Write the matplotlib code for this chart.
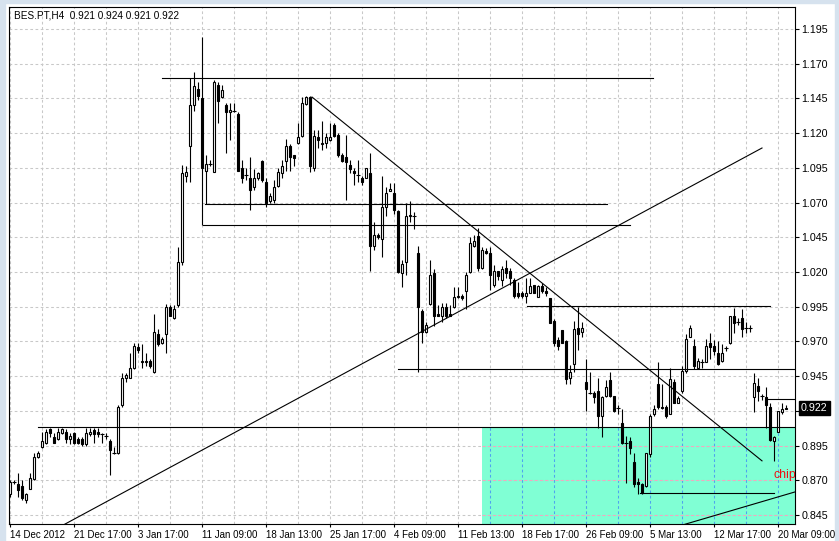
import matplotlib
matplotlib.use("Agg")
import matplotlib.pyplot as plt
from matplotlib.patches import Rectangle
from matplotlib.transforms import blended_transform_factory

plt.rcParams['font.family'] = ['Liberation Sans', 'DejaVu Sans']

# ---------------- data ----------------
title_text = "BES.PT,H4  0.921 0.924 0.921 0.922"

opens = [
    0.860, 0.869, 0.867, 0.866, 0.856, 0.864, 0.871, 0.887, 0.894, 0.897,
    0.907, 0.901, 0.900, 0.904, 0.905, 0.900, 0.904, 0.900, 0.900, 0.896,
    0.903, 0.906, 0.905, 0.903, 0.902, 0.898, 0.890, 0.890, 0.924, 0.944,
    0.944, 0.951, 0.966, 0.955, 0.956, 0.956, 0.948, 0.975, 0.969, 0.975,
    0.995, 0.987, 0.996, 1.027, 1.089, 1.111, 1.140, 1.152, 1.145, 1.093,
    1.098, 1.092, 1.155, 1.146, 1.140, 1.135, 1.136, 1.134, 1.095, 1.090,
    1.088, 1.081, 1.088, 1.100, 1.085, 1.071, 1.072, 1.082, 1.091, 1.100,
    1.111, 1.104, 1.113, 1.118, 1.141, 1.146, 1.095, 1.117, 1.112, 1.113,
    1.115, 1.126, 1.119, 1.104, 1.103, 1.097, 1.093, 1.090, 1.088, 1.088,
    1.091, 1.039, 1.047, 1.044, 1.067, 1.078, 1.077, 1.064, 1.019, 1.027,
    1.060, 1.060, 1.034, 0.992, 0.977, 0.997, 1.019, 0.990, 0.988, 0.995,
    0.990, 0.995, 1.002, 1.003, 1.006, 1.020, 1.039, 1.046, 1.023, 1.035,
    1.034, 1.011, 1.021, 1.014, 1.023, 1.021, 1.014, 1.005, 1.005, 1.003,
    1.005, 1.011, 1.002, 1.010, 1.006, 1.001, 0.985, 0.971, 0.978, 0.970,
    0.944, 0.954, 0.980, 0.977, 0.941, 0.933, 0.933, 0.934, 0.916, 0.931,
    0.942, 0.931, 0.922, 0.911, 0.897, 0.898, 0.883, 0.869, 0.867, 0.866,
    0.889, 0.918, 0.939, 0.923, 0.923, 0.918, 0.941, 0.926, 0.934, 0.949,
    0.973, 0.967, 0.951, 0.955, 0.955, 0.969, 0.967, 0.962, 0.956, 0.965,
    0.969, 0.988, 0.984, 0.987, 0.980, 0.980, 0.930, 0.938, 0.931, 0.930,
    0.923, 0.898, 0.905, 0.919, 0.921,
]
highs = [
    0.870, 0.870, 0.875, 0.870, 0.861, 0.875, 0.890, 0.891, 0.905, 0.907,
    0.908, 0.904, 0.908, 0.908, 0.907, 0.904, 0.905, 0.901, 0.901, 0.908,
    0.908, 0.908, 0.908, 0.904, 0.904, 0.900, 0.894, 0.924, 0.947, 0.947,
    0.962, 0.969, 0.969, 0.968, 0.962, 0.957, 0.990, 0.979, 0.973, 0.997,
    0.996, 0.996, 1.038, 1.097, 1.096, 1.160, 1.164, 1.157, 1.189, 1.104,
    1.101, 1.158, 1.157, 1.155, 1.142, 1.142, 1.142, 1.135, 1.101, 1.095,
    1.103, 1.094, 1.092, 1.101, 1.088, 1.077, 1.086, 1.095, 1.101, 1.116,
    1.112, 1.104, 1.127, 1.146, 1.147, 1.147, 1.122, 1.122, 1.129, 1.120,
    1.127, 1.127, 1.120, 1.106, 1.119, 1.101, 1.095, 1.101, 1.089, 1.095,
    1.106, 1.056, 1.048, 1.089, 1.081, 1.084, 1.084, 1.065, 1.029, 1.070,
    1.071, 1.063, 1.039, 0.993, 0.984, 1.029, 1.022, 0.996, 0.998, 0.998,
    0.996, 1.009, 1.009, 1.004, 1.020, 1.045, 1.047, 1.052, 1.038, 1.037,
    1.038, 1.025, 1.021, 1.024, 1.029, 1.023, 1.016, 1.013, 1.006, 1.016,
    1.016, 1.011, 1.011, 1.012, 1.009, 1.001, 0.986, 0.973, 0.978, 0.971,
    0.953, 0.985, 0.995, 0.984, 0.957, 0.948, 0.934, 0.944, 0.931, 0.942,
    0.948, 0.931, 0.924, 0.921, 0.902, 0.901, 0.890, 0.872, 0.868, 0.890,
    0.918, 0.924, 0.955, 0.939, 0.924, 0.951, 0.943, 0.931, 0.952, 0.975,
    0.982, 0.972, 0.958, 0.957, 0.972, 0.976, 0.971, 0.970, 0.968, 0.967,
    0.988, 0.994, 0.987, 0.993, 0.984, 0.982, 0.947, 0.944, 0.932, 0.937,
    0.926, 0.902, 0.920, 0.926, 0.924,
]
lows = [
    0.858, 0.867, 0.858, 0.856, 0.854, 0.864, 0.870, 0.886, 0.893, 0.896,
    0.901, 0.897, 0.899, 0.903, 0.897, 0.896, 0.896, 0.896, 0.895, 0.895,
    0.902, 0.897, 0.901, 0.897, 0.900, 0.874, 0.889, 0.889, 0.923, 0.941,
    0.944, 0.950, 0.962, 0.951, 0.952, 0.951, 0.947, 0.967, 0.968, 0.962,
    0.988, 0.986, 0.995, 1.025, 1.085, 1.085, 1.136, 1.144, 1.054, 1.069,
    1.096, 1.092, 1.127, 1.145, 1.106, 1.115, 1.135, 1.093, 1.084, 1.086,
    1.065, 1.079, 1.086, 1.085, 1.067, 1.070, 1.070, 1.081, 1.088, 1.093,
    1.093, 1.096, 1.112, 1.117, 1.140, 1.092, 1.093, 1.109, 1.108, 1.109,
    1.114, 1.117, 1.103, 1.099, 1.072, 1.091, 1.083, 1.085, 1.083, 1.088,
    1.021, 1.036, 1.044, 1.031, 1.060, 1.078, 1.062, 1.019, 1.009, 1.018,
    1.056, 1.051, 0.948, 0.969, 0.976, 0.996, 0.981, 0.988, 0.984, 0.987,
    0.988, 0.994, 1.001, 1.000, 0.993, 1.019, 1.038, 1.021, 1.022, 1.033,
    1.007, 1.009, 1.014, 1.010, 1.016, 1.011, 1.001, 1.001, 1.001, 0.998,
    1.005, 1.005, 1.002, 1.005, 1.003, 0.983, 0.967, 0.964, 0.969, 0.939,
    0.939, 0.948, 0.964, 0.973, 0.920, 0.932, 0.926, 0.908, 0.901, 0.930,
    0.930, 0.919, 0.918, 0.896, 0.868, 0.889, 0.865, 0.860, 0.860, 0.865,
    0.887, 0.916, 0.921, 0.921, 0.915, 0.918, 0.926, 0.926, 0.933, 0.947,
    0.973, 0.950, 0.950, 0.951, 0.955, 0.957, 0.960, 0.953, 0.955, 0.963,
    0.968, 0.976, 0.982, 0.973, 0.976, 0.977, 0.919, 0.927, 0.928, 0.908,
    0.898, 0.884, 0.905, 0.918, 0.921,
]
closes = [
    0.869, 0.869, 0.863, 0.857, 0.860, 0.872, 0.887, 0.890, 0.898, 0.905,
    0.904, 0.897, 0.905, 0.907, 0.900, 0.902, 0.897, 0.897, 0.896, 0.904,
    0.905, 0.903, 0.903, 0.903, 0.902, 0.892, 0.890, 0.923, 0.944, 0.946,
    0.951, 0.967, 0.964, 0.956, 0.955, 0.952, 0.977, 0.968, 0.972, 0.995,
    0.988, 0.993, 1.027, 1.091, 1.092, 1.140, 1.154, 1.147, 1.095, 1.098,
    1.098, 1.157, 1.143, 1.151, 1.135, 1.137, 1.136, 1.093, 1.088, 1.090,
    1.079, 1.088, 1.091, 1.086, 1.070, 1.075, 1.081, 1.092, 1.096, 1.111,
    1.103, 1.102, 1.117, 1.142, 1.146, 1.096, 1.118, 1.115, 1.113, 1.117,
    1.117, 1.118, 1.104, 1.100, 1.099, 1.094, 1.091, 1.090, 1.085, 1.095,
    1.039, 1.047, 1.045, 1.067, 1.077, 1.080, 1.065, 1.020, 1.026, 1.060,
    1.061, 1.060, 0.995, 0.977, 0.982, 1.018, 0.988, 0.988, 0.995, 0.988,
    0.988, 1.002, 1.003, 1.001, 1.018, 1.041, 1.042, 1.023, 1.036, 1.034,
    1.018, 1.021, 1.017, 1.022, 1.019, 1.016, 1.003, 1.003, 1.003, 1.005,
    1.010, 1.005, 1.010, 1.006, 1.005, 0.983, 0.969, 0.967, 0.969, 0.943,
    0.948, 0.979, 0.975, 0.980, 0.936, 0.933, 0.930, 0.916, 0.930, 0.937,
    0.931, 0.920, 0.922, 0.897, 0.897, 0.893, 0.867, 0.867, 0.861, 0.890,
    0.916, 0.921, 0.923, 0.922, 0.916, 0.943, 0.926, 0.929, 0.949, 0.972,
    0.980, 0.952, 0.956, 0.955, 0.967, 0.966, 0.963, 0.954, 0.962, 0.965,
    0.988, 0.983, 0.984, 0.979, 0.980, 0.980, 0.940, 0.934, 0.931, 0.924,
    0.899, 0.901, 0.920, 0.921, 0.922,
]

date_labels = ["14 Dec 2012", "21 Dec 17:00", "3 Jan 17:00", "11 Jan 09:00",
               "18 Jan 13:00", "25 Jan 17:00", "4 Feb 09:00", "11 Feb 13:00",
               "18 Feb 17:00", "26 Feb 09:00", "5 Mar 13:00", "12 Mar 17:00",
               "20 Mar 09:00"]
label_step = 16
grid_step = 8
price_ticks = [0.845, 0.870, 0.895, 0.920, 0.945, 0.970, 0.995, 1.020,
               1.045, 1.070, 1.095, 1.120, 1.145, 1.170, 1.195]
last_price = 0.922

# drawn objects: horizontal lines (bar_from, bar_to, price); None = to right edge
h_lines = [
    (38.0, 160.75, 1.1597),
    (48.75, 149.25, 1.0690),
    (48.25, 155.0, 1.0539),
    (129.25, 190.0, 0.9955),
    (97.0, None, 0.9499),
    (7.0, None, 0.9086),
    (189.0, None, 0.9285),
    (157.5, 191.0, 0.8605),
]
# trend lines (bar1, price1, bar2, price2)
trend_lines = [
    (75.5, 1.1460, 188.0, 0.8840),
    (0.0, 0.8171, 188.0, 1.1093),
    (168.0, 0.8377, 198.0, 0.8631),
]
zone_bar_start = 118.0
zone_top = 0.9086
chip_label = "chip"
chip_bar = 191.0
chip_price = 0.874

# ---------------- figure ----------------
W, H = 839, 541
fig = plt.figure(figsize=(W / 100, H / 100), dpi=100)
fig.patch.set_facecolor("white")
x0, x1, y0, y1 = 9, 795, 7, 523.5
ax = fig.add_axes([x0 / W, 1 - y1 / H, (x1 - x0) / W, (y1 - y0) / H])
xmin, xmax = -0.25, 196.25
ymin = 1.195 - (y1 - 29) / 1388.6
ymax = 1.195 + (29 - y0) / 1388.6
ax.set_xlim(xmin, xmax)
ax.set_ylim(ymin, ymax)
ax.set_facecolor("white")

# window border strips
border = "#d6e2ee"
fig.patches.append(Rectangle((0, 0), 5 / W, 1, transform=fig.transFigure, color=border, zorder=-5))
fig.patches.append(Rectangle((0, 1 - 3 / H), 1, 3 / H, transform=fig.transFigure, color=border, zorder=-5))
fig.patches.append(Rectangle((1 - 4 / W, 0), 4 / W, 1, transform=fig.transFigure, color=border, zorder=-5))

# teal zone
ax.add_patch(Rectangle((zone_bar_start, ymin - 0.01), xmax - zone_bar_start + 1,
                       zone_top - ymin + 0.01, facecolor="#80ffd4", edgecolor="none", zorder=0.5))

# grid
n = len(opens)
grid_bars = list(range(0, 196, grid_step))
dash = (0, (2.6, 2.4))
ax.vlines(grid_bars, ymin, ymax, colors="#c8c8c8", lw=0.75, linestyles=dash, zorder=0.6)
ax.hlines(price_ticks, xmin, xmax, colors="#c8c8c8", lw=0.75, linestyles=dash, zorder=0.6)
zb = [b for b in grid_bars if b > zone_bar_start]
ax.vlines(zb, ymin, zone_top, colors="#48a8f0", lw=0.75, linestyles=dash, zorder=0.7)
zp = [p for p in price_ticks if p < zone_top]
ax.hlines(zp, zone_bar_start, xmax, colors="#f0a8c0", lw=0.75, linestyles=dash, zorder=0.7)

# candles
bars = list(range(n))
ax.vlines(bars, lows, highs, colors="black", lw=0.8, zorder=3)
bw = 0.5
for b, o, c in zip(bars, opens, closes):
    if c > o:
        ax.add_patch(Rectangle((b - bw / 2, o), bw, c - o, facecolor="white",
                               edgecolor="black", lw=0.8, zorder=4))
    elif c < o:
        ax.add_patch(Rectangle((b - bw / 2, c), bw, o - c, facecolor="black",
                               edgecolor="black", lw=0.8, zorder=4))
    else:
        ax.hlines(o, b - 0.4, b + 0.4, colors="black", lw=0.8, zorder=4)

# drawn objects
for bf, bt, p in h_lines:
    ax.plot([bf, xmax + 1 if bt is None else bt], [p, p], color="black", lw=0.8, zorder=5)
for b1, p1, b2, p2 in trend_lines:
    ax.plot([b1, b2], [p1, p2], color="black", lw=0.8, zorder=5)

ax.text(chip_bar, chip_price, chip_label, color="#ee1010", fontsize=8.8,
        va="center", ha="left", zorder=6, clip_on=True)

# axes styling
for s in ax.spines.values():
    s.set_color("black")
    s.set_linewidth(0.8)
ax.yaxis.tick_right()
ax.set_yticks(price_ticks)
# the 0.920 label is hidden behind the last-price tag, as in the terminal
ax.set_yticklabels(["" if abs(p - last_price) < 0.005 else f"{p:.3f}" for p in price_ticks])
ax.tick_params(axis="y", which="both", direction="out", length=3, width=0.8,
               pad=1.5, labelsize=7.7, colors="black")
lbl_bars = [i * label_step for i in range(len(date_labels))]
ax.set_xticks(lbl_bars)
ax.set_xticklabels(date_labels, ha="left")
ax.tick_params(axis="x", direction="out", length=2.5, width=0.8, pad=2,
               labelsize=7, colors="black")

# last price tag
tr = blended_transform_factory(ax.transAxes, ax.transData)
ax.text(1.0 + 6 / (x1 - x0), last_price, f"{last_price:.3f}", transform=tr,
        color="white", fontsize=7.7, va="center", ha="left", zorder=10,
        bbox=dict(boxstyle="square,pad=0.2", facecolor="black", edgecolor="black"),
        clip_on=False)

# header
fig.text(14 / W, 1 - 15 / H, title_text, fontsize=7.2, va="center", ha="left", color="black")

fig.savefig("out.png", dpi=100)
